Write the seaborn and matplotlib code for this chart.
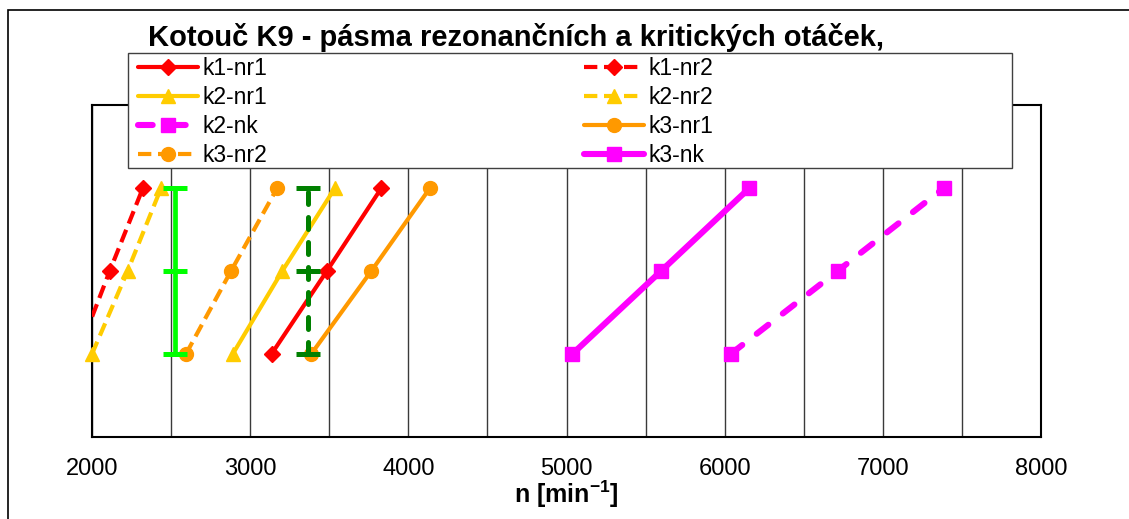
import matplotlib
matplotlib.use("Agg")
import matplotlib.pyplot as plt
from matplotlib.patches import Rectangle
import seaborn as sns

# ---- data (n in min^-1 at each harmonic level) ----
levels = [1, 2, 3]
k1_nr1 = [3135, 3485, 3830]
k1_nr2 = [1910, 2112, 2322]
k2_nr1 = [2890, 3203, 3536]
k2_nr2 = [2000, 2225, 2437]
k2_nk = [6038, 6714, 7385]
k3_nr1 = [3386, 3766, 4137]
k3_nr2 = [2594, 2879, 3171]
k3_nk = [5037, 5598, 6157]
k1_nk_a = [2525, 2525, 2525]
k1_nk_b = [3365, 3365, 3365]
x_ticks = [2000, 3000, 4000, 5000, 6000, 7000, 8000]
grid_minor = [2500, 3500, 4500, 5500, 6500, 7500]
title = "Kotouč K9 - pásma rezonančních a kritických otáček,"

sns.set_style("white")
plt.rcParams['font.family'] = ['Liberation Sans', 'DejaVu Sans']
plt.rcParams['mathtext.fontset'] = 'custom'
plt.rcParams['mathtext.rm'] = 'Liberation Sans'
plt.rcParams['mathtext.bf'] = 'Liberation Sans:bold'
plt.rcParams['text.color'] = 'black'
plt.rcParams['xtick.color'] = 'black'
plt.rcParams['xtick.labelcolor'] = 'black'

W, H = 1129, 519
fig = plt.figure(figsize=(W / 100, H / 100), dpi=100)
ax = fig.add_axes([92 / W, 1 - 437 / H, 949 / W, 332 / H])

RED, YEL, MAG, ORA = "#FF0000", "#FFCC00", "#FF00FF", "#FF9900"
dash_s = (0, (3.2, 1.6))
dash_m = (0, (2.4, 3.0))

specs = [
    ("k1-nr1", k1_nr1, RED, "-", "D", 8, 3.0, "butt", False),
    ("k1-nr2", k1_nr2, RED, dash_s, "D", 8, 3.0, "butt", True),
    ("k2-nr1", k2_nr1, YEL, "-", "^", 10, 3.0, "butt", False),
    ("k2-nr2", k2_nr2, YEL, dash_s, "^", 10, 3.0, "butt", False),
    ("k2-nk", k2_nk, MAG, dash_m, "s", 10, 4.4, "round", False),
    ("k3-nr1", k3_nr1, ORA, "-", "o", 10, 3.0, "butt", False),
    ("k3-nr2", k3_nr2, ORA, dash_s, "o", 10, 3.0, "butt", False),
    ("k3-nk", k3_nk, MAG, "-", "s", 10, 4.4, "butt", False),
]

handles = {}
for name, vals, col, ls, mk, ms, lw, cap, clip in specs:
    n0 = len(ax.lines)
    sns.lineplot(x=vals, y=levels, ax=ax, sort=False, estimator=None,
                 color=col, linestyle=ls, lw=lw, marker=mk, markersize=ms,
                 markeredgecolor=col, markerfacecolor=col, markeredgewidth=1,
                 dash_capstyle=cap, legend=False, zorder=3, clip_on=clip)
    ln = ax.lines[n0]
    ln.set_label(name)
    handles[name] = ln

# critical speed bars (green, no legend)
sns.lineplot(x=k1_nk_a, y=levels, ax=ax, sort=False, estimator=None,
             color="#00FF00", lw=3.4, marker="_", markersize=17,
             markeredgecolor="#00FF00", markeredgewidth=3.6, legend=False, zorder=3)
sns.lineplot(x=k1_nk_b, y=levels, ax=ax, sort=False, estimator=None,
             color="#008000", lw=3.6, linestyle=(0, (2.4, 2.6)),
             dash_capstyle="round", marker="_", markersize=17,
             markeredgecolor="#008000", markeredgewidth=3.6, legend=False, zorder=3)

ax.set_xlim(2000, 8000)
ax.set_ylim(0, 4)
ax.set_xticks(x_ticks)
ax.set_xticks(grid_minor, minor=True)
ax.set_yticks([])
ax.set_xlabel("")
ax.set_ylabel("")
ax.tick_params(axis='x', which='major', length=6, width=1, color='black',
               direction='out', labelsize=17, pad=9, labelcolor='black')
ax.tick_params(axis='x', which='minor', length=0)
ax.grid(axis='x', which='both', color='#3a3a3a', lw=1.0)
ax.set_axisbelow(True)
for sp in ax.spines.values():
    sp.set_visible(True)
    sp.set_color('black')
    sp.set_linewidth(1.5)

# outer chart-area border
fig.add_artist(Rectangle((8 / W, -0.2), 2, 1.2 - 10 / H, transform=fig.transFigure,
                         fill=False, edgecolor='black', lw=1.2, zorder=0.5))

# legend frame
fig.add_artist(Rectangle((128 / W, 1 - 168 / H), 884 / W, 115 / H, transform=fig.transFigure,
                         facecolor='white', edgecolor='#404040', lw=1.0, zorder=3))
order = ["k1-nr1", "k2-nr1", "k2-nk", "k3-nr2", "k1-nr2", "k2-nr2", "k3-nr1", "k3-nk"]
leg = fig.legend([handles[k] for k in order], order, ncol=2, loc='upper left',
                 bbox_to_anchor=(138 / W, 1 - 57 / H), frameon=False, borderpad=0,
                 borderaxespad=0, handlelength=2.6, handletextpad=0.2,
                 labelspacing=0.26, columnspacing=13.85, fontsize=16.5, numpoints=1)
leg.set_zorder(5)
for t in leg.get_texts():
    t.set_color('black')

fig.text(148 / W, 1 - 37 / H, title, fontsize=21, fontweight='bold', va='center', ha='left')
fig.text(566 / W, 1 - 494 / H, r'n [min$^{\mathbf{-1}}$]', fontsize=18, fontweight='bold',
         ha='center', va='center')

fig.savefig("out.png", dpi=100)
